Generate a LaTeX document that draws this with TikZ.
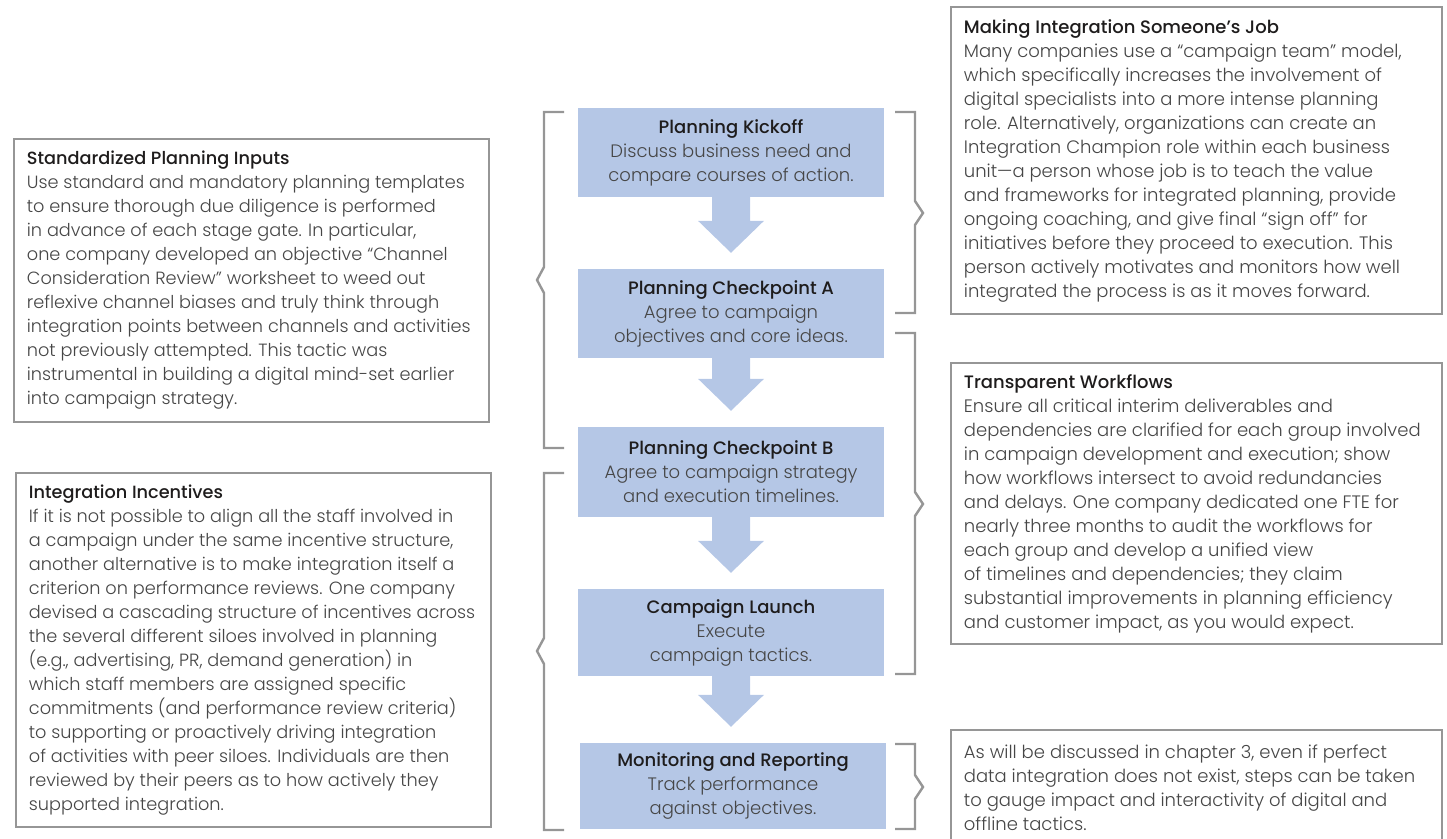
\documentclass[tikz,border=0pt]{standalone}
\usepackage{fontspec}
\setmainfont{Poppins}[UprightFont={* Light}, BoldFont={* Medium}]
\usetikzlibrary{calc}
\definecolor{boxblue}{RGB}{181,199,230}
\definecolor{framegray}{RGB}{150,150,150}
\definecolor{bodygray}{RGB}{70,70,70}
\definecolor{titleblack}{RGB}{30,28,28}
\newcommand\hd[1]{{\color{titleblack}\bfseries #1}}
\newcommand\stagearrow[2]{%
  \fill[flowarrow] ($(#1.south)+(-19,0)$) -- ($(#1.south)+(19,0)$)
    -- ($(#1.south |- #2.north)+(19,-48)$) -- ($(#1.south |- #2.north)+(33,-48)$)
    -- ($(#1.south |- #2.north)+(0,-16)$) -- ($(#1.south |- #2.north)+(-33,-48)$)
    -- ($(#1.south |- #2.north)+(-19,-48)$) -- cycle;}
\begin{document}
\begin{tikzpicture}[x=1pt,y=-1pt,
  stage/.style={fill=boxblue, draw=none, minimum width=306, minimum height=89,
    align=center, inner sep=0, font=\fontsize{18}{24}\selectfont, text=bodygray},
  sidebox/.style={draw=framegray, line width=2.6pt, fill=white, inner sep=0},
  sidetext/.style={anchor=west, xshift=14pt, align=left, inner sep=0,
    font=\fontsize{17.7}{24}\selectfont, text=bodygray},
  righttext/.style={sidetext, font=\fontsize{18}{24}\selectfont},
  brace/.style={draw=framegray, line width=2.4pt},
  flowarrow/.style={fill=boxblue, draw=none}]
\useasboundingbox (0,0) rectangle (1447,838);

% centre column
\node[stage] (b1) at (731,152.5) {\hd{Planning Kickoff}\\Discuss business need and\\compare courses of action.};
\node[stage] (b2) at (731,313.5) {\hd{Planning Checkpoint A}\\Agree to campaign\\objectives and core ideas.};
\node[stage, minimum height=90] (b3) at (731,472) {\hd{Planning Checkpoint B}\\Agree to campaign strategy\\and execution timelines.};
\node[stage, minimum height=87] (b4) at (731,632.5) {\hd{Campaign Launch}\\Execute\\campaign tactics.};
\node[stage, minimum height=86] (b5) at (733,786) {\hd{Monitoring and Reporting}\\Track performance\\against objectives.};

\stagearrow{b1}{b2}
\stagearrow{b2}{b3}
\stagearrow{b3}{b4}
\stagearrow{b4}{b5}

% brackets
\draw[brace] (564,112) -- (544,112) -- (544,267) -- (537,280) -- (544,293) -- (544,448) -- (564,448);
\draw[brace] (564,473) -- (544,473) -- (544,638) -- (537,651) -- (544,664) -- (544,830) -- (564,830);
\draw[brace] (895,112) -- (915,112) -- (915,201) -- (923,213) -- (915,225) -- (915,313) -- (895,313);
\draw[brace] (895,333) -- (915,333) -- (915,492) -- (923,504) -- (915,516) -- (915,674) -- (895,674);
\draw[brace] (895,744) -- (915,744) -- (915,775) -- (923,787) -- (915,799) -- (915,829) -- (895,829);

% left boxes
\node[sidebox, minimum width=475, minimum height=283] (s1) at (251.5,280.5) {};
\node[sidetext] (t1) at (s1.west) {\hd{Standardized Planning Inputs}\\
Use standard and mandatory planning templates\\
to ensure thorough due diligence is performed\\
in advance of each stage gate. In particular,\\
one company developed an objective “Channel\\
Consideration Review” worksheet to weed out\\
reflexive channel biases and truly think through\\
integration points between channels and activities\\
not previously attempted. This tactic was\\
instrumental in building a digital mind-set earlier\\
into campaign strategy.};

\node[sidebox, minimum width=475, minimum height=354] (s2) at (253.5,650) {};
\node[sidetext] (t2) at (s2.west) {\hd{Integration Incentives}\\
If it is not possible to align all the staff involved in\\
a campaign under the same incentive structure,\\
another alternative is to make integration itself a\\
criterion on performance reviews. One company\\
devised a cascading structure of incentives across\\
the several different siloes involved in planning\\
(e.g., advertising, PR, demand generation) in\\
which staff members are assigned specific\\
commitments (and performance review criteria)\\
to supporting or proactively driving integration\\
of activities with peer siloes. Individuals are then\\
reviewed by their peers as to how actively they\\
supported integration.};

% right boxes
\node[sidebox, minimum width=491, minimum height=307] (s3) at (1196.5,160.5) {};
\node[righttext] (t3) at (s3.west) {\hd{Making Integration Someone’s Job}\\
Many companies use a “campaign team” model,\\
which specifically increases the involvement of\\
digital specialists into a more intense planning\\
role. Alternatively, organizations can create an\\
Integration Champion role within each business\\
unit—a person whose job is to teach the value\\
and frameworks for integrated planning, provide\\
ongoing coaching, and give final “sign off” for\\
initiatives before they proceed to execution. This\\
person actively motivates and monitors how well\\
integrated the process is as it moves forward.};

\node[sidebox, minimum width=491, minimum height=281] (s4) at (1196.5,503.5) {};
\node[righttext] (t4) at (s4.west) {\hd{Transparent Workflows}\\
Ensure all critical interim deliverables and\\
dependencies are clarified for each group involved\\
in campaign development and execution; show\\
how workflows intersect to avoid redundancies\\
and delays. One company dedicated one FTE for\\
nearly three months to audit the workflows for\\
each group and develop a unified view\\
of timelines and dependencies; they claim\\
substantial improvements in planning efficiency\\
and customer impact, as you would expect.};

\node[sidebox, minimum width=491, minimum height=116] (s5) at (1196.5,788) {};
\node[righttext] (t5) at (s5.west) {As will be discussed in chapter 3, even if perfect\\
data integration does not exist, steps can be taken\\
to gauge impact and interactivity of digital and\\
offline tactics.};
\end{tikzpicture}
\end{document}
